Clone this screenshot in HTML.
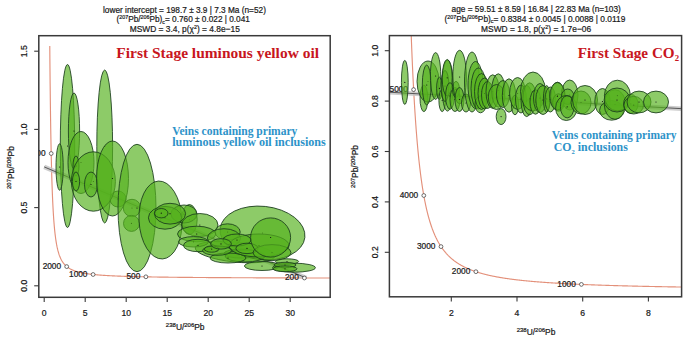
<!DOCTYPE html>
<html><head><meta charset="utf-8"><style>
html,body{margin:0;padding:0;background:#fff;}
body{width:685px;height:337px;overflow:hidden;}
svg{display:block;}
text{font-family:"Liberation Sans",sans-serif;fill:#1a1a1a;stroke:#1a1a1a;stroke-width:0.22px;}
.red,.blue{stroke:none;}
.tl{font-size:9px;}
.tk{font-size:8.6px;}
.cl{font-size:8.3px;}
.red{font-family:"Liberation Serif",serif;font-weight:bold;fill:#c8161e;font-size:15.6px;}
.blue{font-family:"Liberation Serif",serif;font-weight:bold;fill:#2d93c9;font-size:12.3px;}
.e ellipse{fill:rgb(85,178,30);fill-opacity:0.67;stroke:#1a3c1c;stroke-width:0.85;}
.e .d{fill:#111;}
.m{fill:#fff;stroke:#333;stroke-width:0.7;}
</style></head><body>
<svg width="685" height="337" viewBox="0 0 685 337">
<defs>
<clipPath id="cl"><rect x="38.8" y="35.7" width="291.4" height="261.6"/></clipPath>
<clipPath id="cr"><rect x="389.4" y="35.6" width="292.2" height="261.2"/></clipPath>
</defs>

<g clip-path="url(#cl)">
<path d="M392.52,278.13 L390.91,278.12 L389.31,278.12 L387.71,278.12 L386.12,278.12 L384.54,278.11 L382.97,278.11 L381.40,278.11 L379.84,278.11 L378.29,278.11 L376.74,278.10 L375.20,278.10 L373.67,278.10 L372.15,278.10 L370.63,278.09 L369.12,278.09 L367.62,278.09 L366.12,278.09 L364.63,278.08 L363.15,278.08 L361.67,278.08 L360.20,278.08 L358.74,278.07 L357.28,278.07 L355.83,278.07 L354.39,278.07 L352.95,278.06 L351.52,278.06 L350.10,278.06 L348.68,278.06 L347.27,278.05 L345.87,278.05 L344.47,278.05 L343.08,278.05 L341.70,278.04 L340.32,278.04 L338.95,278.04 L337.58,278.03 L336.22,278.03 L334.87,278.03 L333.52,278.03 L332.18,278.02 L330.85,278.02 L329.52,278.02 L328.19,278.02 L326.88,278.01 L325.57,278.01 L324.26,278.01 L322.96,278.00 L321.67,278.00 L320.38,278.00 L319.10,278.00 L317.83,277.99 L316.56,277.99 L315.30,277.99 L314.04,277.98 L312.79,277.98 L311.54,277.98 L310.30,277.97 L309.07,277.97 L307.84,277.97 L306.61,277.97 L305.39,277.96 L304.18,277.96 L302.98,277.96 L301.77,277.95 L300.58,277.95 L299.39,277.95 L298.20,277.94 L297.02,277.94 L295.85,277.94 L294.68,277.93 L293.52,277.93 L292.36,277.93 L291.21,277.92 L290.06,277.92 L288.92,277.92 L287.78,277.91 L286.65,277.91 L285.52,277.91 L284.40,277.90 L283.28,277.90 L282.17,277.90 L281.07,277.89 L279.97,277.89 L278.87,277.89 L277.78,277.88 L276.69,277.88 L275.61,277.88 L274.54,277.87 L273.46,277.87 L272.40,277.87 L271.34,277.86 L270.28,277.86 L269.23,277.85 L268.18,277.85 L267.14,277.85 L266.10,277.84 L265.07,277.84 L264.04,277.84 L263.02,277.83 L262.00,277.83 L260.98,277.83 L259.98,277.82 L258.97,277.82 L257.97,277.81 L256.98,277.81 L255.98,277.81 L255.00,277.80 L254.02,277.80 L253.04,277.79 L252.07,277.79 L251.10,277.79 L250.13,277.78 L249.17,277.78 L248.22,277.77 L247.27,277.77 L246.32,277.77 L245.38,277.76 L244.44,277.76 L243.51,277.75 L242.58,277.75 L241.65,277.75 L240.73,277.74 L239.81,277.74 L238.90,277.73 L237.99,277.73 L237.09,277.72 L236.19,277.72 L235.29,277.72 L234.40,277.71 L233.51,277.71 L232.63,277.70 L231.75,277.70 L230.87,277.69 L230.00,277.69 L229.14,277.68 L228.27,277.68 L227.41,277.67 L226.56,277.67 L225.70,277.67 L224.86,277.66 L224.01,277.66 L223.17,277.65 L222.34,277.65 L221.50,277.64 L220.67,277.64 L219.85,277.63 L219.03,277.63 L218.21,277.62 L217.40,277.62 L216.59,277.61 L215.78,277.61 L214.98,277.60 L214.18,277.60 L213.38,277.59 L212.59,277.59 L211.80,277.58 L211.02,277.58 L210.24,277.57 L209.46,277.57 L208.69,277.56 L207.92,277.56 L207.15,277.55 L206.39,277.55 L205.63,277.54 L204.87,277.54 L204.12,277.53 L203.37,277.53 L202.62,277.52 L201.88,277.51 L201.14,277.51 L200.41,277.50 L199.67,277.50 L198.94,277.49 L198.22,277.49 L197.50,277.48 L196.78,277.48 L196.06,277.47 L195.35,277.46 L194.64,277.46 L193.93,277.45 L193.23,277.45 L192.53,277.44 L191.84,277.43 L191.14,277.43 L190.45,277.42 L189.77,277.42 L189.08,277.41 L188.40,277.40 L187.72,277.40 L187.05,277.39 L186.38,277.39 L185.71,277.38 L185.04,277.37 L184.38,277.37 L183.72,277.36 L183.07,277.36 L182.41,277.35 L181.76,277.34 L181.12,277.34 L180.47,277.33 L179.83,277.32 L179.19,277.32 L178.56,277.31 L177.93,277.30 L177.30,277.30 L176.67,277.29 L176.05,277.28 L175.42,277.28 L174.81,277.27 L174.19,277.26 L173.58,277.26 L172.97,277.25 L172.36,277.24 L171.76,277.23 L171.16,277.23 L170.56,277.22 L169.96,277.21 L169.37,277.21 L168.78,277.20 L168.19,277.19 L167.61,277.18 L167.02,277.18 L166.44,277.17 L165.87,277.16 L165.29,277.15 L164.72,277.15 L164.15,277.14 L163.59,277.13 L163.02,277.12 L162.46,277.12 L161.90,277.11 L161.34,277.10 L160.79,277.09 L160.24,277.09 L159.69,277.08 L159.14,277.07 L158.60,277.06 L158.06,277.05 L157.52,277.05 L156.99,277.04 L156.45,277.03 L155.92,277.02 L155.39,277.01 L154.86,277.00 L154.34,277.00 L153.82,276.99 L153.30,276.98 L152.78,276.97 L152.27,276.96 L151.76,276.95 L151.25,276.94 L150.74,276.94 L150.23,276.93 L149.73,276.92 L149.23,276.91 L148.73,276.90 L148.24,276.89 L147.74,276.88 L147.25,276.87 L146.76,276.86 L146.27,276.85 L145.79,276.85 L145.31,276.84 L144.83,276.83 L144.35,276.82 L143.87,276.81 L143.40,276.80 L142.93,276.79 L142.46,276.78 L141.99,276.77 L141.52,276.76 L141.06,276.75 L140.60,276.74 L140.14,276.73 L139.69,276.72 L139.23,276.71 L138.78,276.70 L138.33,276.69 L137.88,276.68 L137.43,276.67 L136.99,276.66 L136.55,276.65 L136.11,276.64 L135.67,276.63 L135.23,276.62 L134.80,276.60 L134.37,276.59 L133.93,276.58 L133.51,276.57 L133.08,276.56 L132.66,276.55 L132.23,276.54 L131.81,276.53 L131.39,276.52 L130.98,276.50 L130.56,276.49 L130.15,276.48 L129.74,276.47 L129.33,276.46 L128.92,276.45 L128.52,276.43 L128.11,276.42 L127.71,276.41 L127.31,276.40 L126.91,276.39 L126.52,276.37 L126.12,276.36 L125.73,276.35 L125.34,276.34 L124.95,276.32 L124.56,276.31 L124.18,276.30 L123.79,276.29 L123.41,276.27 L123.03,276.26 L122.65,276.25 L122.28,276.24 L121.90,276.22 L121.53,276.21 L121.16,276.20 L120.79,276.18 L120.42,276.17 L120.05,276.15 L119.69,276.14 L119.33,276.13 L118.96,276.11 L118.60,276.10 L118.25,276.09 L117.89,276.07 L117.53,276.06 L117.18,276.04 L116.83,276.03 L116.48,276.01 L116.13,276.00 L115.78,275.98 L115.44,275.97 L115.10,275.95 L114.75,275.94 L114.41,275.92 L114.07,275.91 L113.74,275.89 L113.40,275.88 L113.07,275.86 L112.73,275.85 L112.40,275.83 L112.07,275.82 L111.74,275.80 L111.42,275.78 L111.09,275.77 L110.77,275.75 L110.45,275.74 L110.13,275.72 L109.81,275.70 L109.49,275.69 L109.17,275.67 L108.86,275.65 L108.54,275.63 L108.23,275.62 L107.92,275.60 L107.61,275.58 L107.30,275.57 L107.00,275.55 L106.69,275.53 L106.39,275.51 L106.09,275.49 L105.79,275.48 L105.49,275.46 L105.19,275.44 L104.89,275.42 L104.60,275.40 L104.30,275.38 L104.01,275.36 L103.72,275.35 L103.43,275.33 L103.14,275.31 L102.85,275.29 L102.57,275.27 L102.28,275.25 L102.00,275.23 L101.72,275.21 L101.44,275.19 L101.16,275.17 L100.88,275.15 L100.60,275.13 L100.33,275.11 L100.05,275.08 L99.78,275.06 L99.51,275.04 L99.24,275.02 L98.97,275.00 L98.70,274.98 L98.43,274.96 L98.17,274.93 L97.90,274.91 L97.64,274.89 L97.38,274.87 L97.11,274.84 L96.85,274.82 L96.60,274.80 L96.34,274.78 L96.08,274.75 L95.83,274.73 L95.57,274.71 L95.32,274.68 L95.07,274.66 L94.82,274.63 L94.57,274.61 L94.32,274.58 L94.08,274.56 L93.83,274.54 L93.59,274.51 L93.34,274.48 L93.10,274.46 L92.86,274.43 L92.62,274.41 L92.38,274.38 L92.14,274.36 L91.90,274.33 L91.67,274.30 L91.43,274.28 L91.20,274.25 L90.97,274.22 L90.74,274.19 L90.51,274.17 L90.28,274.14 L90.05,274.11 L89.82,274.08 L89.59,274.05 L89.37,274.02 L89.15,274.00 L88.92,273.97 L88.70,273.94 L88.48,273.91 L88.26,273.88 L88.04,273.85 L87.82,273.82 L87.61,273.79 L87.39,273.76 L87.17,273.72 L86.96,273.69 L86.75,273.66 L86.53,273.63 L86.32,273.60 L86.11,273.56 L85.90,273.53 L85.70,273.50 L85.49,273.47 L85.28,273.43 L85.08,273.40 L84.87,273.36 L84.67,273.33 L84.47,273.30 L84.27,273.26 L84.06,273.23 L83.86,273.19 L83.67,273.15 L83.47,273.12 L83.27,273.08 L83.07,273.05 L82.88,273.01 L82.69,272.97 L82.49,272.93 L82.30,272.90 L82.11,272.86 L81.92,272.82 L81.73,272.78 L81.54,272.74 L81.35,272.70 L81.16,272.66 L80.98,272.62 L80.79,272.58 L80.61,272.54 L80.42,272.50 L80.24,272.46 L80.06,272.42 L79.88,272.37 L79.69,272.33 L79.52,272.29 L79.34,272.25 L79.16,272.20 L78.98,272.16 L78.80,272.11 L78.63,272.07 L78.45,272.02 L78.28,271.98 L78.11,271.93 L77.94,271.89 L77.76,271.84 L77.59,271.79 L77.42,271.74 L77.25,271.70 L77.09,271.65 L76.92,271.60 L76.75,271.55 L76.58,271.50 L76.42,271.45 L76.25,271.40 L76.09,271.35 L75.93,271.29 L75.77,271.24 L75.60,271.19 L75.44,271.14 L75.28,271.08 L75.12,271.03 L74.96,270.97 L74.81,270.92 L74.65,270.86 L74.49,270.81 L74.34,270.75 L74.18,270.69 L74.03,270.64 L73.88,270.58 L73.72,270.52 L73.57,270.46 L73.42,270.40 L73.27,270.34 L73.12,270.28 L72.97,270.22 L72.82,270.15 L72.67,270.09 L72.52,270.03 L72.38,269.96 L72.23,269.90 L72.09,269.83 L71.94,269.77 L71.80,269.70 L71.66,269.63 L71.51,269.56 L71.37,269.50 L71.23,269.43 L71.09,269.36 L70.95,269.29 L70.81,269.21 L70.67,269.14 L70.53,269.07 L70.40,269.00 L70.26,268.92 L70.12,268.85 L69.99,268.77 L69.85,268.69 L69.72,268.62 L69.58,268.54 L69.45,268.46 L69.32,268.38 L69.19,268.30 L69.06,268.22 L68.93,268.14 L68.80,268.05 L68.67,267.97 L68.54,267.89 L68.41,267.80 L68.28,267.71 L68.15,267.63 L68.03,267.54 L67.90,267.45 L67.78,267.36 L67.65,267.27 L67.53,267.17 L67.40,267.08 L67.28,266.99 L67.16,266.89 L67.04,266.80 L66.92,266.70 L66.80,266.60 L66.68,266.50 L66.56,266.40 L66.44,266.30 L66.32,266.20 L66.20,266.09 L66.08,265.99 L65.97,265.88 L65.85,265.78 L65.74,265.67 L65.62,265.56 L65.51,265.45 L65.39,265.33 L65.28,265.22 L65.16,265.11 L65.05,264.99 L64.94,264.87 L64.83,264.75 L64.72,264.64 L64.61,264.51 L64.50,264.39 L64.39,264.27 L64.28,264.14 L64.17,264.01 L64.06,263.89 L63.96,263.76 L63.85,263.62 L63.74,263.49 L63.64,263.36 L63.53,263.22 L63.43,263.08 L63.32,262.94 L63.22,262.80 L63.11,262.66 L63.01,262.52 L62.91,262.37 L62.81,262.22 L62.71,262.07 L62.60,261.92 L62.50,261.77 L62.40,261.61 L62.30,261.46 L62.21,261.30 L62.11,261.14 L62.01,260.97 L61.91,260.81 L61.81,260.64 L61.72,260.47 L61.62,260.30 L61.52,260.13 L61.43,259.95 L61.33,259.77 L61.24,259.59 L61.14,259.41 L61.05,259.23 L60.96,259.04 L60.86,258.85 L60.77,258.66 L60.68,258.46 L60.59,258.27 L60.50,258.07 L60.41,257.86 L60.32,257.66 L60.23,257.45 L60.14,257.24 L60.05,257.03 L59.96,256.81 L59.87,256.59 L59.78,256.37 L59.70,256.15 L59.61,255.92 L59.52,255.69 L59.44,255.46 L59.35,255.22 L59.27,254.98 L59.18,254.74 L59.10,254.49 L59.01,254.24 L58.93,253.99 L58.85,253.73 L58.76,253.47 L58.68,253.20 L58.60,252.94 L58.52,252.66 L58.44,252.39 L58.35,252.11 L58.27,251.82 L58.19,251.54 L58.11,251.25 L58.03,250.95 L57.95,250.65 L57.88,250.34 L57.80,250.04 L57.72,249.72 L57.64,249.40 L57.57,249.08 L57.49,248.75 L57.41,248.42 L57.34,248.09 L57.26,247.74 L57.18,247.40 L57.11,247.04 L57.03,246.69 L56.96,246.32 L56.89,245.95 L56.81,245.58 L56.74,245.20 L56.67,244.81 L56.59,244.42 L56.52,244.02 L56.45,243.62 L56.38,243.21 L56.31,242.79 L56.24,242.37 L56.17,241.94 L56.10,241.51 L56.03,241.06 L55.96,240.61 L55.89,240.15 L55.82,239.69 L55.75,239.22 L55.68,238.74 L55.61,238.25 L55.55,237.75 L55.48,237.25 L55.41,236.74 L55.35,236.22 L55.28,235.69 L55.21,235.15 L55.15,234.61 L55.08,234.05 L55.02,233.49 L54.95,232.91 L54.89,232.33 L54.82,231.73 L54.76,231.13 L54.70,230.52 L54.63,229.89 L54.57,229.26 L54.51,228.61 L54.45,227.95 L54.38,227.28 L54.32,226.60 L54.26,225.91 L54.20,225.21 L54.14,224.49 L54.08,223.76 L54.02,223.02 L53.96,222.26 L53.90,221.50 L53.84,220.71 L53.78,219.92 L53.72,219.10 L53.66,218.28 L53.61,217.44 L53.55,216.58 L53.49,215.71 L53.43,214.82 L53.38,213.92 L53.32,213.00 L53.26,212.06 L53.21,211.10 L53.15,210.13 L53.10,209.13 L53.04,208.12 L52.98,207.09 L52.93,206.04 L52.88,204.97 L52.82,203.88 L52.77,202.77 L52.71,201.64 L52.66,200.48 L52.61,199.30 L52.55,198.10 L52.50,196.88 L52.45,195.63 L52.40,194.36 L52.34,193.06 L52.29,191.73 L52.24,190.38 L52.19,189.00 L52.14,187.60 L52.09,186.16 L52.04,184.70 L51.99,183.20 L51.94,181.68 L51.89,180.12 L51.84,178.53 L51.79,176.91 L51.74,175.25 L51.69,173.56 L51.64,171.84 L51.60,170.08 L51.55,168.28 L51.50,166.44 L51.45,164.56 L51.41,162.64 L51.36,160.68 L51.31,158.68 L51.27,156.64 L51.22,154.55 L51.17,152.41 L51.13,150.23 L51.08,148.00 L51.04,145.72 L50.99,143.39 L50.95,141.00 L50.90,138.57 L50.86,136.07 L50.81,133.53 L50.77,130.92 L50.72,128.25 L50.68,125.53 L50.64,122.74 L50.59,119.88 L50.55,116.96 L50.51,113.97 L50.47,110.92 L50.42,107.79 L50.38,104.58 L50.34,101.30 L50.30,97.94 L50.26,94.51 L50.22,90.99 L50.18,87.38 L50.13,83.69 L50.09,79.91 L50.05,76.03 L50.01,72.06 L49.97,68.00 L49.93,63.83 L49.89,59.56 L49.85,55.18 L49.82,50.69 L49.78,46.09" fill="none" stroke="#e3907a" stroke-width="1.15"/>
<line x1="44.2" y1="166.9" x2="306.2" y2="278.0" stroke="#c4c4c4" stroke-opacity="0.85" stroke-width="4.6"/>
<line x1="44.2" y1="166.9" x2="306.2" y2="278.0" stroke="#4a4a4a" stroke-width="0.9"/>
<circle class="m" cx="304.4" cy="278.0" r="1.9"/><text class="cl" x="298.8" y="280.2" text-anchor="end">200</text><circle class="m" cx="145.9" cy="276.8" r="1.9"/><text class="cl" x="140.3" y="279.0" text-anchor="end">500</text><circle class="m" cx="93.1" cy="274.5" r="1.9"/><text class="cl" x="87.5" y="276.7" text-anchor="end">1000</text><circle class="m" cx="66.7" cy="266.6" r="1.9"/><text class="cl" x="61.1" y="268.8" text-anchor="end">2000</text><circle class="m" cx="51.2" cy="153.5" r="1.9"/><text class="cl" x="45.6" y="155.7" text-anchor="end">5000</text>
<g class="e">
<ellipse cx="67.5" cy="146.0" rx="7.2" ry="81.5"/><circle class="d" cx="67.5" cy="146.0" r="0.6"/>
<ellipse cx="74.0" cy="131.0" rx="5.6" ry="38.0"/><circle class="d" cx="74.0" cy="131.0" r="0.6"/>
<ellipse cx="104.7" cy="146.5" rx="7.9" ry="76.5"/><circle class="d" cx="104.7" cy="146.5" r="0.6"/>
<ellipse cx="59.6" cy="167.0" rx="3.6" ry="23.2"/><circle class="d" cx="59.6" cy="167.0" r="0.6"/>
<ellipse cx="81.0" cy="162.5" rx="13.0" ry="31.0"/><circle class="d" cx="81.0" cy="162.5" r="0.6"/>
<ellipse cx="76.0" cy="166.0" rx="3.0" ry="10.0"/><circle class="d" cx="76.0" cy="166.0" r="0.6"/>
<ellipse cx="118.0" cy="199.0" rx="8.0" ry="8.0"/><circle class="d" cx="118.0" cy="199.0" r="0.6"/>
<ellipse cx="93.4" cy="181.5" rx="22.0" ry="29.7"/><circle class="d" cx="93.4" cy="181.5" r="0.6"/>
<ellipse cx="76.0" cy="181.5" rx="3.6" ry="9.5"/><circle class="d" cx="76.0" cy="181.5" r="0.6"/>
<ellipse cx="91.0" cy="184.5" rx="6.5" ry="12.5"/><circle class="d" cx="91.0" cy="184.5" r="0.6"/>
<ellipse cx="112.5" cy="178.5" rx="16.0" ry="37.5"/><circle class="d" cx="112.5" cy="178.5" r="0.6"/>
<ellipse cx="132.0" cy="208.0" rx="8.7" ry="8.7"/><circle class="d" cx="132.0" cy="208.0" r="0.6"/>
<ellipse cx="131.5" cy="223.4" rx="8.0" ry="8.0"/><circle class="d" cx="131.5" cy="223.4" r="0.6"/>
<ellipse cx="137.0" cy="208.0" rx="19.0" ry="63.7"/><circle class="d" cx="137.0" cy="208.0" r="0.6"/>
<ellipse cx="160.5" cy="220.0" rx="21.5" ry="39.0" transform="rotate(-3 160.5 220.0)"/><circle class="d" cx="160.5" cy="220.0" r="0.6"/>
<ellipse cx="189.4" cy="219.5" rx="7.8" ry="15.0"/><circle class="d" cx="189.4" cy="219.5" r="0.6"/>
<ellipse cx="184.0" cy="214.0" rx="13.0" ry="9.0"/><circle class="d" cx="184.0" cy="214.0" r="0.6"/>
<ellipse cx="165.0" cy="217.8" rx="16.6" ry="11.4"/><circle class="d" cx="165.0" cy="217.8" r="0.6"/>
<ellipse cx="170.0" cy="213.7" rx="15.6" ry="10.4"/><circle class="d" cx="170.0" cy="213.7" r="0.6"/>
<ellipse cx="161.3" cy="213.2" rx="6.7" ry="4.7"/><circle class="d" cx="161.3" cy="213.2" r="0.6"/>
<ellipse cx="235.0" cy="252.0" rx="40.0" ry="10.0" transform="rotate(6 235.0 252.0)"/><circle class="d" cx="235.0" cy="252.0" r="0.6"/>
<ellipse cx="262.5" cy="233.0" rx="42.6" ry="26.7" transform="rotate(6 262.5 233.0)"/><circle class="d" cx="262.5" cy="233.0" r="0.6"/>
<ellipse cx="199.8" cy="225.0" rx="18.2" ry="11.5"/><circle class="d" cx="199.8" cy="225.0" r="0.6"/>
<ellipse cx="196.7" cy="234.0" rx="19.2" ry="7.8"/><circle class="d" cx="196.7" cy="234.0" r="0.6"/>
<ellipse cx="193.5" cy="241.8" rx="15.0" ry="5.2"/><circle class="d" cx="193.5" cy="241.8" r="0.6"/>
<ellipse cx="198.0" cy="245.5" rx="14.5" ry="6.2"/><circle class="d" cx="198.0" cy="245.5" r="0.6"/>
<ellipse cx="227.6" cy="232.0" rx="12.6" ry="8.2"/><circle class="d" cx="227.6" cy="232.0" r="0.6"/>
<ellipse cx="224.0" cy="238.0" rx="16.6" ry="9.3"/><circle class="d" cx="224.0" cy="238.0" r="0.6"/>
<ellipse cx="241.7" cy="253.6" rx="17.8" ry="4.5"/><circle class="d" cx="241.7" cy="253.6" r="0.6"/>
<ellipse cx="245.0" cy="256.0" rx="20.0" ry="6.0"/><circle class="d" cx="245.0" cy="256.0" r="0.6"/>
<ellipse cx="228.0" cy="258.0" rx="18.0" ry="5.0"/><circle class="d" cx="228.0" cy="258.0" r="0.6"/>
<ellipse cx="259.0" cy="245.5" rx="30.0" ry="11.5"/><circle class="d" cx="259.0" cy="245.5" r="0.6"/>
<ellipse cx="237.0" cy="240.0" rx="14.0" ry="6.0"/><circle class="d" cx="237.0" cy="240.0" r="0.6"/>
<ellipse cx="247.0" cy="248.4" rx="11.1" ry="5.2"/><circle class="d" cx="247.0" cy="248.4" r="0.6"/>
<ellipse cx="272.0" cy="252.6" rx="19.0" ry="8.0"/><circle class="d" cx="272.0" cy="252.6" r="0.6"/>
<ellipse cx="217.0" cy="250.6" rx="14.5" ry="4.7"/><circle class="d" cx="217.0" cy="250.6" r="0.6"/>
<ellipse cx="211.7" cy="249.1" rx="7.3" ry="3.1"/><circle class="d" cx="211.7" cy="249.1" r="0.6"/>
<ellipse cx="221.0" cy="243.9" rx="10.4" ry="5.2"/><circle class="d" cx="221.0" cy="243.9" r="0.6"/>
<ellipse cx="270.6" cy="237.5" rx="20.0" ry="19.6"/><circle class="d" cx="270.6" cy="237.5" r="0.6"/>
<ellipse cx="262.0" cy="266.0" rx="17.6" ry="4.5"/><circle class="d" cx="262.0" cy="266.0" r="0.6"/>
<ellipse cx="294.0" cy="267.7" rx="21.4" ry="4.5"/><circle class="d" cx="294.0" cy="267.7" r="0.6"/>
<ellipse cx="287.0" cy="261.5" rx="11.6" ry="2.7"/><circle class="d" cx="287.0" cy="261.5" r="0.6"/>
<ellipse cx="285.0" cy="265.0" rx="11.0" ry="2.7"/><circle class="d" cx="285.0" cy="265.0" r="0.6"/>
<ellipse cx="285.0" cy="268.8" rx="12.0" ry="2.9"/><circle class="d" cx="285.0" cy="268.8" r="0.6"/>
</g></g>
<rect x="38.8" y="35.7" width="291.4" height="261.6" fill="none" stroke="#3a3a3a" stroke-width="1.5"/>
<g stroke="#3a3a3a" stroke-width="1.1"><line x1="44.2" y1="297.3" x2="44.2" y2="301.9"/><line x1="85.2" y1="297.3" x2="85.2" y2="301.9"/><line x1="126.2" y1="297.3" x2="126.2" y2="301.9"/><line x1="167.2" y1="297.3" x2="167.2" y2="301.9"/><line x1="208.2" y1="297.3" x2="208.2" y2="301.9"/><line x1="249.2" y1="297.3" x2="249.2" y2="301.9"/><line x1="290.2" y1="297.3" x2="290.2" y2="301.9"/><line x1="34.2" y1="285.8" x2="38.8" y2="285.8"/><line x1="34.2" y1="207.6" x2="38.8" y2="207.6"/><line x1="34.2" y1="129.4" x2="38.8" y2="129.4"/><line x1="34.2" y1="51.2" x2="38.8" y2="51.2"/></g>
<g class="tk"><text x="44.2" y="315.7" text-anchor="middle">0</text><text x="85.2" y="315.7" text-anchor="middle">5</text><text x="126.2" y="315.7" text-anchor="middle">10</text><text x="167.2" y="315.7" text-anchor="middle">15</text><text x="208.2" y="315.7" text-anchor="middle">20</text><text x="249.2" y="315.7" text-anchor="middle">25</text><text x="290.2" y="315.7" text-anchor="middle">30</text><text x="27.4" y="285.8" text-anchor="middle" transform="rotate(-90 27.4 285.8)">0.0</text><text x="27.4" y="207.6" text-anchor="middle" transform="rotate(-90 27.4 207.6)">0.5</text><text x="27.4" y="129.4" text-anchor="middle" transform="rotate(-90 27.4 129.4)">1.0</text><text x="27.4" y="51.2" text-anchor="middle" transform="rotate(-90 27.4 51.2)">1.5</text></g>
<g clip-path="url(#cr)">
<path d="M722.37,287.60 L721.40,287.59 L720.44,287.58 L719.47,287.56 L718.51,287.55 L717.55,287.54 L716.60,287.53 L715.65,287.52 L714.70,287.50 L713.75,287.49 L712.80,287.48 L711.86,287.47 L710.92,287.46 L709.99,287.44 L709.05,287.43 L708.12,287.42 L707.19,287.41 L706.26,287.40 L705.34,287.38 L704.42,287.37 L703.50,287.36 L702.58,287.35 L701.67,287.33 L700.76,287.32 L699.85,287.31 L698.94,287.30 L698.04,287.28 L697.13,287.27 L696.24,287.26 L695.34,287.25 L694.44,287.23 L693.55,287.22 L692.66,287.21 L691.78,287.19 L690.89,287.18 L690.01,287.17 L689.13,287.15 L688.25,287.14 L687.38,287.13 L686.51,287.11 L685.64,287.10 L684.77,287.09 L683.90,287.07 L683.04,287.06 L682.18,287.05 L681.32,287.03 L680.47,287.02 L679.61,287.01 L678.76,286.99 L677.91,286.98 L677.07,286.96 L676.22,286.95 L675.38,286.94 L674.54,286.92 L673.71,286.91 L672.87,286.89 L672.04,286.88 L671.21,286.86 L670.38,286.85 L669.56,286.84 L668.73,286.82 L667.91,286.81 L667.09,286.79 L666.28,286.78 L665.46,286.76 L664.65,286.75 L663.84,286.73 L663.03,286.72 L662.23,286.70 L661.42,286.69 L660.62,286.67 L659.82,286.66 L659.03,286.64 L658.23,286.63 L657.44,286.61 L656.65,286.60 L655.86,286.58 L655.08,286.57 L654.30,286.55 L653.51,286.53 L652.74,286.52 L651.96,286.50 L651.18,286.49 L650.41,286.47 L649.64,286.46 L648.87,286.44 L648.11,286.42 L647.34,286.41 L646.58,286.39 L645.82,286.37 L645.06,286.36 L644.31,286.34 L643.55,286.33 L642.80,286.31 L642.05,286.29 L641.30,286.28 L640.56,286.26 L639.81,286.24 L639.07,286.22 L638.33,286.21 L637.60,286.19 L636.86,286.17 L636.13,286.16 L635.40,286.14 L634.67,286.12 L633.94,286.10 L633.21,286.09 L632.49,286.07 L631.77,286.05 L631.05,286.03 L630.33,286.02 L629.62,286.00 L628.90,285.98 L628.19,285.96 L627.48,285.94 L626.78,285.93 L626.07,285.91 L625.37,285.89 L624.67,285.87 L623.97,285.85 L623.27,285.83 L622.57,285.82 L621.88,285.80 L621.19,285.78 L620.50,285.76 L619.81,285.74 L619.12,285.72 L618.44,285.70 L617.75,285.68 L617.07,285.66 L616.40,285.64 L615.72,285.63 L615.04,285.61 L614.37,285.59 L613.70,285.57 L613.03,285.55 L612.36,285.53 L611.70,285.51 L611.03,285.49 L610.37,285.47 L609.71,285.45 L609.05,285.43 L608.39,285.41 L607.74,285.39 L607.09,285.36 L606.44,285.34 L605.79,285.32 L605.14,285.30 L604.49,285.28 L603.85,285.26 L603.21,285.24 L602.56,285.22 L601.93,285.20 L601.29,285.18 L600.65,285.15 L600.02,285.13 L599.39,285.11 L598.76,285.09 L598.13,285.07 L597.50,285.05 L596.88,285.02 L596.26,285.00 L595.63,284.98 L595.01,284.96 L594.40,284.93 L593.78,284.91 L593.17,284.89 L592.55,284.87 L591.94,284.84 L591.33,284.82 L590.72,284.80 L590.12,284.78 L589.51,284.75 L588.91,284.73 L588.31,284.71 L587.71,284.68 L587.11,284.66 L586.52,284.63 L585.92,284.61 L585.33,284.59 L584.74,284.56 L584.15,284.54 L583.56,284.51 L582.97,284.49 L582.39,284.47 L581.80,284.44 L581.22,284.42 L580.64,284.39 L580.06,284.37 L579.49,284.34 L578.91,284.32 L578.34,284.29 L577.77,284.27 L577.20,284.24 L576.63,284.21 L576.06,284.19 L575.49,284.16 L574.93,284.14 L574.37,284.11 L573.81,284.08 L573.25,284.06 L572.69,284.03 L572.13,284.00 L571.58,283.98 L571.02,283.95 L570.47,283.92 L569.92,283.90 L569.37,283.87 L568.83,283.84 L568.28,283.81 L567.74,283.79 L567.19,283.76 L566.65,283.73 L566.11,283.70 L565.57,283.68 L565.04,283.65 L564.50,283.62 L563.97,283.59 L563.44,283.56 L562.90,283.53 L562.37,283.50 L561.85,283.48 L561.32,283.45 L560.80,283.42 L560.27,283.39 L559.75,283.36 L559.23,283.33 L558.71,283.30 L558.19,283.27 L557.67,283.24 L557.16,283.21 L556.65,283.18 L556.13,283.15 L555.62,283.12 L555.11,283.08 L554.61,283.05 L554.10,283.02 L553.59,282.99 L553.09,282.96 L552.59,282.93 L552.09,282.90 L551.59,282.86 L551.09,282.83 L550.59,282.80 L550.10,282.77 L549.60,282.73 L549.11,282.70 L548.62,282.67 L548.13,282.64 L547.64,282.60 L547.15,282.57 L546.67,282.54 L546.18,282.50 L545.70,282.47 L545.22,282.43 L544.74,282.40 L544.26,282.37 L543.78,282.33 L543.30,282.30 L542.83,282.26 L542.35,282.23 L541.88,282.19 L541.41,282.16 L540.94,282.12 L540.47,282.08 L540.00,282.05 L539.54,282.01 L539.07,281.98 L538.61,281.94 L538.15,281.90 L537.68,281.87 L537.22,281.83 L536.77,281.79 L536.31,281.75 L535.85,281.72 L535.40,281.68 L534.94,281.64 L534.49,281.60 L534.04,281.56 L533.59,281.53 L533.14,281.49 L532.70,281.45 L532.25,281.41 L531.80,281.37 L531.36,281.33 L530.92,281.29 L530.48,281.25 L530.04,281.21 L529.60,281.17 L529.16,281.13 L528.73,281.09 L528.29,281.05 L527.86,281.01 L527.42,280.96 L526.99,280.92 L526.56,280.88 L526.13,280.84 L525.71,280.80 L525.28,280.75 L524.85,280.71 L524.43,280.67 L524.01,280.62 L523.58,280.58 L523.16,280.54 L522.74,280.49 L522.32,280.45 L521.91,280.41 L521.49,280.36 L521.08,280.32 L520.66,280.27 L520.25,280.23 L519.84,280.18 L519.43,280.13 L519.02,280.09 L518.61,280.04 L518.20,280.00 L517.80,279.95 L517.39,279.90 L516.99,279.85 L516.59,279.81 L516.18,279.76 L515.78,279.71 L515.38,279.66 L514.99,279.61 L514.59,279.56 L514.19,279.52 L513.80,279.47 L513.40,279.42 L513.01,279.37 L512.62,279.32 L512.23,279.27 L511.84,279.22 L511.45,279.16 L511.07,279.11 L510.68,279.06 L510.29,279.01 L509.91,278.96 L509.53,278.91 L509.15,278.85 L508.76,278.80 L508.38,278.75 L508.01,278.69 L507.63,278.64 L507.25,278.58 L506.88,278.53 L506.50,278.48 L506.13,278.42 L505.76,278.36 L505.38,278.31 L505.01,278.25 L504.64,278.20 L504.28,278.14 L503.91,278.08 L503.54,278.03 L503.18,277.97 L502.81,277.91 L502.45,277.85 L502.09,277.79 L501.73,277.73 L501.37,277.67 L501.01,277.62 L500.65,277.56 L500.29,277.49 L499.93,277.43 L499.58,277.37 L499.22,277.31 L498.87,277.25 L498.52,277.19 L498.17,277.13 L497.82,277.06 L497.47,277.00 L497.12,276.94 L496.77,276.87 L496.43,276.81 L496.08,276.74 L495.74,276.68 L495.39,276.61 L495.05,276.55 L494.71,276.48 L494.37,276.41 L494.03,276.35 L493.69,276.28 L493.35,276.21 L493.01,276.14 L492.68,276.08 L492.34,276.01 L492.01,275.94 L491.67,275.87 L491.34,275.80 L491.01,275.73 L490.68,275.66 L490.35,275.58 L490.02,275.51 L489.69,275.44 L489.37,275.37 L489.04,275.29 L488.72,275.22 L488.39,275.15 L488.07,275.07 L487.75,275.00 L487.42,274.92 L487.10,274.84 L486.78,274.77 L486.47,274.69 L486.15,274.61 L485.83,274.54 L485.51,274.46 L485.20,274.38 L484.89,274.30 L484.57,274.22 L484.26,274.14 L483.95,274.06 L483.64,273.98 L483.33,273.90 L483.02,273.81 L482.71,273.73 L482.40,273.65 L482.10,273.56 L481.79,273.48 L481.48,273.39 L481.18,273.31 L480.88,273.22 L480.58,273.14 L480.27,273.05 L479.97,272.96 L479.67,272.87 L479.37,272.79 L479.08,272.70 L478.78,272.61 L478.48,272.52 L478.19,272.42 L477.89,272.33 L477.60,272.24 L477.31,272.15 L477.01,272.06 L476.72,271.96 L476.43,271.87 L476.14,271.77 L475.85,271.68 L475.56,271.58 L475.28,271.48 L474.99,271.38 L474.70,271.29 L474.42,271.19 L474.13,271.09 L473.85,270.99 L473.57,270.89 L473.29,270.78 L473.00,270.68 L472.72,270.58 L472.44,270.48 L472.17,270.37 L471.89,270.27 L471.61,270.16 L471.33,270.05 L471.06,269.95 L470.78,269.84 L470.51,269.73 L470.24,269.62 L469.96,269.51 L469.69,269.40 L469.42,269.29 L469.15,269.18 L468.88,269.06 L468.61,268.95 L468.34,268.84 L468.08,268.72 L467.81,268.60 L467.54,268.49 L467.28,268.37 L467.01,268.25 L466.75,268.13 L466.49,268.01 L466.23,267.89 L465.96,267.77 L465.70,267.64 L465.44,267.52 L465.18,267.40 L464.93,267.27 L464.67,267.15 L464.41,267.02 L464.16,266.89 L463.90,266.76 L463.64,266.63 L463.39,266.50 L463.14,266.37 L462.88,266.24 L462.63,266.10 L462.38,265.97 L462.13,265.83 L461.88,265.70 L461.63,265.56 L461.38,265.42 L461.13,265.28 L460.89,265.14 L460.64,265.00 L460.40,264.86 L460.15,264.71 L459.91,264.57 L459.66,264.42 L459.42,264.28 L459.18,264.13 L458.94,263.98 L458.69,263.83 L458.45,263.68 L458.21,263.53 L457.98,263.38 L457.74,263.22 L457.50,263.07 L457.26,262.91 L457.03,262.75 L456.79,262.59 L456.56,262.43 L456.32,262.27 L456.09,262.11 L455.86,261.95 L455.62,261.78 L455.39,261.62 L455.16,261.45 L454.93,261.28 L454.70,261.11 L454.47,260.94 L454.24,260.77 L454.02,260.59 L453.79,260.42 L453.56,260.24 L453.34,260.06 L453.11,259.89 L452.89,259.70 L452.66,259.52 L452.44,259.34 L452.22,259.15 L451.99,258.97 L451.77,258.78 L451.55,258.59 L451.33,258.40 L451.11,258.21 L450.89,258.02 L450.67,257.82 L450.46,257.63 L450.24,257.43 L450.02,257.23 L449.81,257.03 L449.59,256.82 L449.38,256.62 L449.16,256.41 L448.95,256.21 L448.74,256.00 L448.53,255.79 L448.31,255.57 L448.10,255.36 L447.89,255.14 L447.68,254.93 L447.47,254.71 L447.26,254.48 L447.06,254.26 L446.85,254.04 L446.64,253.81 L446.44,253.58 L446.23,253.35 L446.03,253.12 L445.82,252.88 L445.62,252.65 L445.41,252.41 L445.21,252.17 L445.01,251.93 L444.81,251.68 L444.61,251.44 L444.40,251.19 L444.20,250.94 L444.01,250.69 L443.81,250.43 L443.61,250.18 L443.41,249.92 L443.21,249.66 L443.02,249.39 L442.82,249.13 L442.63,248.86 L442.43,248.59 L442.24,248.32 L442.04,248.05 L441.85,247.77 L441.66,247.49 L441.46,247.21 L441.27,246.93 L441.08,246.64 L440.89,246.35 L440.70,246.06 L440.51,245.77 L440.32,245.47 L440.13,245.17 L439.95,244.87 L439.76,244.57 L439.57,244.26 L439.39,243.95 L439.20,243.64 L439.02,243.32 L438.83,243.00 L438.65,242.68 L438.46,242.36 L438.28,242.03 L438.10,241.71 L437.92,241.37 L437.73,241.04 L437.55,240.70 L437.37,240.36 L437.19,240.02 L437.01,239.67 L436.83,239.32 L436.66,238.96 L436.48,238.61 L436.30,238.25 L436.12,237.88 L435.95,237.52 L435.77,237.15 L435.60,236.78 L435.42,236.40 L435.25,236.02 L435.07,235.64 L434.90,235.25 L434.73,234.86 L434.55,234.46 L434.38,234.06 L434.21,233.66 L434.04,233.26 L433.87,232.85 L433.70,232.44 L433.53,232.02 L433.36,231.60 L433.19,231.17 L433.03,230.74 L432.86,230.31 L432.69,229.87 L432.52,229.43 L432.36,228.99 L432.19,228.54 L432.03,228.08 L431.86,227.62 L431.70,227.16 L431.53,226.69 L431.37,226.22 L431.21,225.75 L431.05,225.27 L430.88,224.78 L430.72,224.29 L430.56,223.79 L430.40,223.29 L430.24,222.79 L430.08,222.28 L429.92,221.76 L429.77,221.24 L429.61,220.72 L429.45,220.19 L429.29,219.65 L429.14,219.11 L428.98,218.56 L428.82,218.01 L428.67,217.46 L428.51,216.89 L428.36,216.32 L428.20,215.75 L428.05,215.17 L427.90,214.58 L427.75,213.99 L427.59,213.39 L427.44,212.79 L427.29,212.18 L427.14,211.56 L426.99,210.94 L426.84,210.31 L426.69,209.67 L426.54,209.03 L426.39,208.38 L426.24,207.72 L426.09,207.06 L425.95,206.39 L425.80,205.71 L425.65,205.03 L425.51,204.34 L425.36,203.64 L425.22,202.93 L425.07,202.22 L424.93,201.50 L424.78,200.77 L424.64,200.03 L424.50,199.29 L424.35,198.54 L424.21,197.78 L424.07,197.01 L423.93,196.23 L423.79,195.45 L423.64,194.65 L423.50,193.85 L423.36,193.04 L423.23,192.22 L423.09,191.39 L422.95,190.55 L422.81,189.71 L422.67,188.85 L422.53,187.98 L422.40,187.11 L422.26,186.22 L422.12,185.33 L421.99,184.42 L421.85,183.51 L421.72,182.58 L421.58,181.65 L421.45,180.70 L421.31,179.74 L421.18,178.77 L421.05,177.80 L420.91,176.81 L420.78,175.80 L420.65,174.79 L420.52,173.77 L420.39,172.73 L420.26,171.68 L420.13,170.62 L420.00,169.55 L419.87,168.47 L419.74,167.37 L419.61,166.26 L419.48,165.14 L419.35,164.00 L419.22,162.85 L419.10,161.69 L418.97,160.51 L418.84,159.32 L418.72,158.12 L418.59,156.90 L418.47,155.67 L418.34,154.42 L418.22,153.16 L418.09,151.88 L417.97,150.58 L417.84,149.28 L417.72,147.95 L417.60,146.61 L417.48,145.26 L417.35,143.88 L417.23,142.49 L417.11,141.09 L416.99,139.66 L416.87,138.22 L416.75,136.76 L416.63,135.29 L416.51,133.79 L416.39,132.28 L416.27,130.74 L416.15,129.19 L416.03,127.62 L415.92,126.03 L415.80,124.42 L415.68,122.79 L415.56,121.14 L415.45,119.47 L415.33,117.78 L415.22,116.06 L415.10,114.33 L414.99,112.57 L414.87,110.79 L414.76,108.99 L414.64,107.16 L414.53,105.31 L414.42,103.44 L414.30,101.54 L414.19,99.62 L414.08,97.67 L413.97,95.70 L413.85,93.70 L413.74,91.67 L413.63,89.62 L413.52,87.55 L413.41,85.44 L413.30,83.31 L413.19,81.15 L413.08,78.96 L412.97,76.74 L412.86,74.49 L412.76,72.21 L412.65,69.90 L412.54,67.56 L412.43,65.19 L412.33,62.79 L412.22,60.35 L412.11,57.89 L412.01,55.38 L411.90,52.85 L411.80,50.28 L411.69,47.67 L411.59,45.03 L411.48,42.35 L411.38,39.64 L411.27,36.88 L411.17,34.09 L411.07,31.26 L410.96,28.40 L410.86,25.49 L410.76,22.54 L410.66,19.55" fill="none" stroke="#e3907a" stroke-width="1.15"/>
<line x1="385.6" y1="92.0" x2="3927.7" y2="291.4" stroke="#c4c4c4" stroke-opacity="0.85" stroke-width="4.6"/>
<line x1="385.6" y1="92.0" x2="3927.7" y2="291.4" stroke="#4a4a4a" stroke-width="0.9"/>
<circle class="m" cx="581.4" cy="284.4" r="1.9"/><text class="cl" x="575.8" y="286.6" text-anchor="end">1000</text><circle class="m" cx="475.9" cy="271.7" r="1.9"/><text class="cl" x="470.3" y="273.9" text-anchor="end">2000</text><circle class="m" cx="441.0" cy="246.6" r="1.9"/><text class="cl" x="435.4" y="248.8" text-anchor="end">3000</text><circle class="m" cx="423.8" cy="195.5" r="1.9"/><text class="cl" x="418.2" y="197.7" text-anchor="end">4000</text><circle class="m" cx="413.6" cy="89.6" r="1.9"/><text class="cl" x="408.0" y="91.8" text-anchor="end">5000</text>
<g class="e">
<ellipse cx="404.8" cy="82.4" rx="3.4" ry="22.0"/><circle class="d" cx="404.8" cy="82.4" r="0.6"/>
<ellipse cx="423.9" cy="98.3" rx="3.9" ry="13.3"/><circle class="d" cx="423.9" cy="98.3" r="0.6"/>
<ellipse cx="428.0" cy="81.5" rx="11.0" ry="20.5"/><circle class="d" cx="428.0" cy="81.5" r="0.6"/>
<ellipse cx="426.7" cy="85.0" rx="4.4" ry="20.0"/><circle class="d" cx="426.7" cy="85.0" r="0.6"/>
<ellipse cx="435.6" cy="76.0" rx="5.2" ry="23.4"/><circle class="d" cx="435.6" cy="76.0" r="0.6"/>
<ellipse cx="439.4" cy="88.3" rx="2.8" ry="11.1"/><circle class="d" cx="439.4" cy="88.3" r="0.6"/>
<ellipse cx="442.2" cy="100.5" rx="3.3" ry="11.1"/><circle class="d" cx="442.2" cy="100.5" r="0.6"/>
<ellipse cx="447.5" cy="85.6" rx="5.6" ry="25.5"/><circle class="d" cx="447.5" cy="85.6" r="0.6"/>
<ellipse cx="445.0" cy="86.0" rx="3.9" ry="15.5"/><circle class="d" cx="445.0" cy="86.0" r="0.6"/>
<ellipse cx="447.2" cy="77.8" rx="5.0" ry="18.3"/><circle class="d" cx="447.2" cy="77.8" r="0.6"/>
<ellipse cx="450.0" cy="96.0" rx="4.4" ry="13.3"/><circle class="d" cx="450.0" cy="96.0" r="0.6"/>
<ellipse cx="455.0" cy="99.5" rx="5.0" ry="12.0"/><circle class="d" cx="455.0" cy="99.5" r="0.6"/>
<ellipse cx="456.0" cy="89.4" rx="3.5" ry="8.0"/><circle class="d" cx="456.0" cy="89.4" r="0.6"/>
<ellipse cx="459.6" cy="77.0" rx="6.8" ry="26.7"/><circle class="d" cx="459.6" cy="77.0" r="0.6"/>
<ellipse cx="459.5" cy="99.5" rx="4.5" ry="12.0"/><circle class="d" cx="459.5" cy="99.5" r="0.6"/>
<ellipse cx="466.0" cy="103.0" rx="4.5" ry="9.0"/><circle class="d" cx="466.0" cy="103.0" r="0.6"/>
<ellipse cx="472.0" cy="82.0" rx="7.5" ry="30.0"/><circle class="d" cx="472.0" cy="82.0" r="0.6"/>
<ellipse cx="475.5" cy="85.0" rx="7.5" ry="23.5"/><circle class="d" cx="475.5" cy="85.0" r="0.6"/>
<ellipse cx="478.5" cy="88.5" rx="7.5" ry="20.5"/><circle class="d" cx="478.5" cy="88.5" r="0.6"/>
<ellipse cx="480.5" cy="104.4" rx="5.5" ry="8.4"/><circle class="d" cx="480.5" cy="104.4" r="0.6"/>
<ellipse cx="481.5" cy="91.5" rx="7.0" ry="18.0"/><circle class="d" cx="481.5" cy="91.5" r="0.6"/>
<ellipse cx="484.5" cy="93.5" rx="6.5" ry="15.5"/><circle class="d" cx="484.5" cy="93.5" r="0.6"/>
<ellipse cx="487.5" cy="95.0" rx="6.0" ry="13.5"/><circle class="d" cx="487.5" cy="95.0" r="0.6"/>
<ellipse cx="492.7" cy="91.6" rx="6.7" ry="16.8"/><circle class="d" cx="492.7" cy="91.6" r="0.6"/>
<ellipse cx="498.3" cy="90.5" rx="6.6" ry="16.7"/><circle class="d" cx="498.3" cy="90.5" r="0.6"/>
<ellipse cx="496.6" cy="97.0" rx="8.3" ry="12.5"/><circle class="d" cx="496.6" cy="97.0" r="0.6"/>
<ellipse cx="503.0" cy="94.0" rx="6.6" ry="13.5"/><circle class="d" cx="503.0" cy="94.0" r="0.6"/>
<ellipse cx="501.1" cy="116.6" rx="4.9" ry="8.0"/><circle class="d" cx="501.1" cy="116.6" r="0.6"/>
<ellipse cx="509.0" cy="95.5" rx="6.7" ry="16.7"/><circle class="d" cx="509.0" cy="95.5" r="0.6"/>
<ellipse cx="515.0" cy="105.0" rx="3.6" ry="9.8"/><circle class="d" cx="515.0" cy="105.0" r="0.6"/>
<ellipse cx="517.6" cy="93.5" rx="8.0" ry="16.0"/><circle class="d" cx="517.6" cy="93.5" r="0.6"/>
<ellipse cx="521.0" cy="99.0" rx="5.5" ry="14.0"/><circle class="d" cx="521.0" cy="99.0" r="0.6"/>
<ellipse cx="526.7" cy="101.0" rx="5.6" ry="15.6"/><circle class="d" cx="526.7" cy="101.0" r="0.6"/>
<ellipse cx="529.6" cy="98.8" rx="6.7" ry="16.0"/><circle class="d" cx="529.6" cy="98.8" r="0.6"/>
<ellipse cx="533.0" cy="91.5" rx="12.5" ry="19.5"/><circle class="d" cx="533.0" cy="91.5" r="0.6"/>
<ellipse cx="535.5" cy="102.0" rx="5.5" ry="12.2"/><circle class="d" cx="535.5" cy="102.0" r="0.6"/>
<ellipse cx="540.0" cy="98.0" rx="6.5" ry="14.5"/><circle class="d" cx="540.0" cy="98.0" r="0.6"/>
<ellipse cx="543.0" cy="100.0" rx="7.2" ry="14.5"/><circle class="d" cx="543.0" cy="100.0" r="0.6"/>
<ellipse cx="546.7" cy="98.9" rx="3.3" ry="13.3"/><circle class="d" cx="546.7" cy="98.9" r="0.6"/>
<ellipse cx="550.3" cy="99.5" rx="5.3" ry="12.5"/><circle class="d" cx="550.3" cy="99.5" r="0.6"/>
<ellipse cx="557.5" cy="96.2" rx="6.8" ry="14.0"/><circle class="d" cx="557.5" cy="96.2" r="0.6"/>
<ellipse cx="558.5" cy="102.5" rx="5.8" ry="8.7"/><circle class="d" cx="558.5" cy="102.5" r="0.6"/>
<ellipse cx="569.7" cy="95.0" rx="8.3" ry="15.0"/><circle class="d" cx="569.7" cy="95.0" r="0.6"/>
<ellipse cx="557.4" cy="96.2" rx="7.7" ry="13.8"/><circle class="d" cx="557.4" cy="96.2" r="0.6"/>
<ellipse cx="567.7" cy="96.7" rx="6.3" ry="7.7"/><circle class="d" cx="567.7" cy="96.7" r="0.6"/>
<ellipse cx="566.3" cy="108.0" rx="10.7" ry="12.5"/><circle class="d" cx="566.3" cy="108.0" r="0.6"/>
<ellipse cx="567.2" cy="106.8" rx="6.8" ry="11.1"/><circle class="d" cx="567.2" cy="106.8" r="0.6"/>
<ellipse cx="581.0" cy="102.5" rx="10.0" ry="11.5"/><circle class="d" cx="581.0" cy="102.5" r="0.6"/>
<ellipse cx="585.0" cy="100.0" rx="12.5" ry="14.5"/><circle class="d" cx="585.0" cy="100.0" r="0.6"/>
<ellipse cx="602.5" cy="101.5" rx="7.7" ry="13.0"/><circle class="d" cx="602.5" cy="101.5" r="0.6"/>
<ellipse cx="611.6" cy="110.4" rx="12.0" ry="9.8"/><circle class="d" cx="611.6" cy="110.4" r="0.6"/>
<ellipse cx="615.0" cy="104.5" rx="10.7" ry="14.8"/><circle class="d" cx="615.0" cy="104.5" r="0.6"/>
<ellipse cx="617.4" cy="95.6" rx="13.0" ry="15.4"/><circle class="d" cx="617.4" cy="95.6" r="0.6"/>
<ellipse cx="617.0" cy="100.0" rx="12.9" ry="12.0"/><circle class="d" cx="617.0" cy="100.0" r="0.6"/>
<ellipse cx="630.8" cy="103.9" rx="7.2" ry="9.5"/><circle class="d" cx="630.8" cy="103.9" r="0.6"/>
<ellipse cx="633.7" cy="105.2" rx="9.8" ry="8.8"/><circle class="d" cx="633.7" cy="105.2" r="0.6"/>
<ellipse cx="639.0" cy="102.0" rx="12.0" ry="10.9"/><circle class="d" cx="639.0" cy="102.0" r="0.6"/>
<ellipse cx="656.0" cy="102.0" rx="12.5" ry="10.9"/><circle class="d" cx="656.0" cy="102.0" r="0.6"/>
</g></g>
<rect x="389.4" y="35.6" width="292.2" height="261.2" fill="none" stroke="#3a3a3a" stroke-width="1.5"/>
<g stroke="#3a3a3a" stroke-width="1.1"><line x1="451.3" y1="296.8" x2="451.3" y2="301.4"/><line x1="517.0" y1="296.8" x2="517.0" y2="301.4"/><line x1="582.7" y1="296.8" x2="582.7" y2="301.4"/><line x1="648.4" y1="296.8" x2="648.4" y2="301.4"/><line x1="384.8" y1="252.3" x2="389.4" y2="252.3"/><line x1="384.8" y1="201.9" x2="389.4" y2="201.9"/><line x1="384.8" y1="151.5" x2="389.4" y2="151.5"/><line x1="384.8" y1="101.1" x2="389.4" y2="101.1"/><line x1="384.8" y1="50.7" x2="389.4" y2="50.7"/></g>
<g class="tk"><text x="451.3" y="315.7" text-anchor="middle">2</text><text x="517.0" y="315.7" text-anchor="middle">4</text><text x="582.7" y="315.7" text-anchor="middle">6</text><text x="648.4" y="315.7" text-anchor="middle">8</text><text x="378.0" y="252.3" text-anchor="middle" transform="rotate(-90 378.0 252.3)">0.2</text><text x="378.0" y="201.9" text-anchor="middle" transform="rotate(-90 378.0 201.9)">0.4</text><text x="378.0" y="151.5" text-anchor="middle" transform="rotate(-90 378.0 151.5)">0.6</text><text x="378.0" y="101.1" text-anchor="middle" transform="rotate(-90 378.0 101.1)">0.8</text><text x="378.0" y="50.7" text-anchor="middle" transform="rotate(-90 378.0 50.7)">1.0</text></g>
<g class="tl">
<text x="103" y="12.5" textLength="162.9" lengthAdjust="spacingAndGlyphs">lower intercept = 198.7 ± 3.9 | 7.3 Ma (n=52)</text>
<text x="116.6" y="22.4" textLength="133.3" lengthAdjust="spacingAndGlyphs">(<tspan font-size="5.8" dy="-3">207</tspan><tspan dy="3">Pb/</tspan><tspan font-size="5.8" dy="-3">206</tspan><tspan dy="3">Pb)</tspan><tspan font-size="5.8" dy="1.8">c</tspan><tspan dy="-1.8">= 0.760 ± 0.022 | 0.041</tspan></text>
<text x="129.7" y="32.2" textLength="110.1" lengthAdjust="spacingAndGlyphs">MSWD = 3.4, p(χ<tspan font-size="5.8" dy="-3">2</tspan><tspan dy="3">) = 4.8e−15</tspan></text>
<text x="451.6" y="11.5" textLength="169.2" lengthAdjust="spacingAndGlyphs">age = 59.51 ± 8.59 | 16.84 | 22.83 Ma (n=103)</text>
<text x="444.5" y="21.6" textLength="180.8" lengthAdjust="spacingAndGlyphs">(<tspan font-size="5.8" dy="-3">207</tspan><tspan dy="3">Pb/</tspan><tspan font-size="5.8" dy="-3">206</tspan><tspan dy="3">Pb)</tspan><tspan font-size="5.8" dy="1.8">c</tspan><tspan dy="-1.8">= 0.8384 ± 0.0045 | 0.0088 | 0.0119</tspan></text>
<text x="481.1" y="31.7" textLength="110" lengthAdjust="spacingAndGlyphs">MSWD = 1.8, p(χ<tspan font-size="5.8" dy="-3">2</tspan><tspan dy="3">) = 1.7e−06</tspan></text>
</g>
<g class="tl" text-anchor="middle" style="font-size:8.4px">
<text x="185.2" y="330.4"><tspan font-size="6" dy="-3.3">238</tspan><tspan dy="3.3">U/</tspan><tspan font-size="6" dy="-3.3">206</tspan><tspan dy="3.3">Pb</tspan></text>
<text x="536" y="335"><tspan font-size="6" dy="-3.3">238</tspan><tspan dy="3.3">U/</tspan><tspan font-size="6" dy="-3.3">206</tspan><tspan dy="3.3">Pb</tspan></text>
<text x="14.5" y="167.6" transform="rotate(-90 14.5 167.6)"><tspan font-size="6" dy="-3.3">207</tspan><tspan dy="3.3">Pb/</tspan><tspan font-size="6" dy="-3.3">206</tspan><tspan dy="3.3">Pb</tspan></text>
<text x="358.1" y="166.5" transform="rotate(-90 358.1 166.5)"><tspan font-size="6" dy="-3.3">207</tspan><tspan dy="3.3">Pb/</tspan><tspan font-size="6" dy="-3.3">206</tspan><tspan dy="3.3">Pb</tspan></text>
</g>
<text class="red" x="116.3" y="57.8" textLength="202.7" lengthAdjust="spacingAndGlyphs">First Stage luminous yellow oil</text>
<text class="red" x="577.8" y="57.9" textLength="101.2" lengthAdjust="spacingAndGlyphs">First Stage CO<tspan font-size="9" dy="2.6">2</tspan></text>
<text class="blue" x="172.2" y="134.9" textLength="125.2" lengthAdjust="spacingAndGlyphs">Veins containing primary</text>
<text class="blue" x="172.2" y="146.2" textLength="153.6" lengthAdjust="spacingAndGlyphs">luminous yellow oil inclusions</text>
<text class="blue" x="551.8" y="139.4" textLength="124.8" lengthAdjust="spacingAndGlyphs">Veins containing primary</text>
<text class="blue" x="553.8" y="151.2" textLength="74" lengthAdjust="spacingAndGlyphs">CO<tspan font-size="6.8" dy="2.4">2</tspan><tspan dy="-2.4"> inclusions</tspan></text>
</svg></body></html>
